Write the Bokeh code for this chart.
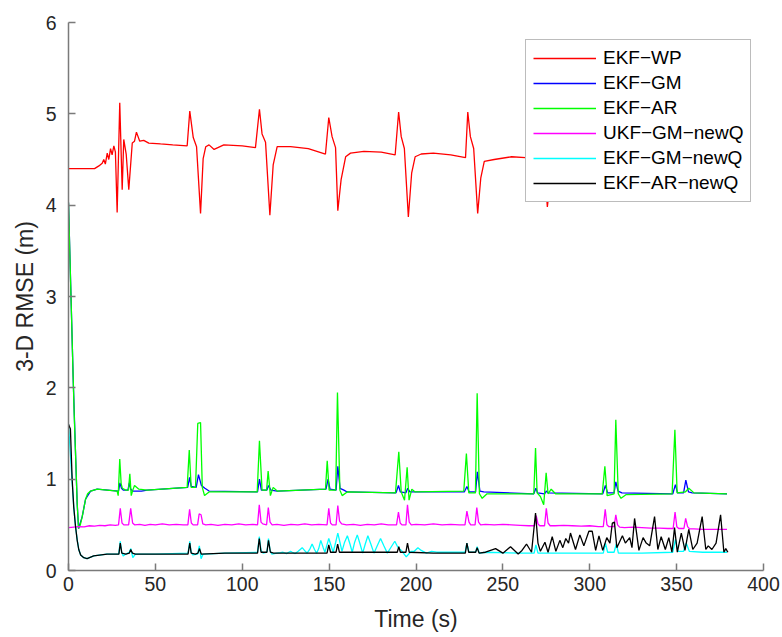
from bokeh.plotting import figure
from bokeh.models import Range1d, FixedTicker
from bokeh.embed import file_html
from bokeh.resources import INLINE

# ---------------- data (time s, 3-D RMSE m) ----------------
x_ticks = [0, 50, 100, 150, 200, 250, 300, 350, 400]
y_ticks = [0, 1, 2, 3, 4, 5, 6]

names = ["EKF\u2212WP", "EKF\u2212GM", "EKF\u2212AR", "UKF\u2212GM\u2212newQ", "EKF\u2212GM\u2212newQ", "EKF\u2212AR\u2212newQ"]
colors = ["#ff0000", "#0000ff", "#00ff00", "#ff00ff", "#00ffff", "#000000"]

ekf_wp = [(0, 4.40), (15, 4.40), (17.5, 4.43), (19.4, 4.46), (20.3, 4.50), (21.2, 4.45), (22.3, 4.57),
          (23.2, 4.50), (24.2, 4.62), (25.1, 4.55), (26.1, 4.65), (27, 4.58), (28, 3.92), (29.5, 5.12),
          (30.9, 4.17), (31.8, 4.72), (33.2, 4.56), (34.7, 4.17), (36.7, 4.68), (38, 4.70), (39.1, 4.80),
          (41, 4.70), (43.3, 4.71), (46.2, 4.68), (53, 4.67), (60, 4.66), (68.3, 4.65), (69.8, 5.03),
          (71.8, 4.74), (73.7, 4.64), (76, 3.91), (77.5, 4.51), (79, 4.64), (80.9, 4.66), (83.8, 4.61),
          (89.4, 4.66), (100, 4.65), (107.6, 4.63), (109.9, 5.05), (111.4, 4.78), (113.4, 4.69),
          (115.9, 3.89), (117.8, 4.44), (120.1, 4.64), (127.8, 4.64), (138, 4.62), (147.9, 4.56),
          (149.8, 4.96), (151.7, 4.75), (153.7, 4.63), (155, 3.94), (156.9, 4.28), (159.5, 4.53),
          (162.3, 4.57), (170, 4.59), (180, 4.58), (188, 4.55), (190, 5.02), (191.5, 4.75), (193.3, 4.62),
          (195.6, 3.87), (197.5, 4.35), (199.5, 4.53), (203, 4.56), (210, 4.57), (220, 4.55), (228.5, 4.52),
          (229.8, 5.02), (231.3, 4.75), (233.2, 4.62), (235.5, 3.91), (237.3, 4.30), (239.3, 4.48),
          (245, 4.50), (255, 4.53), (263, 4.52), (268.5, 4.50), (270, 4.98), (271.5, 4.72), (273.3, 4.60),
          (275.6, 3.98), (277.5, 4.30), (280, 4.47), (290, 4.50), (300, 4.49), (308.5, 4.47), (310, 4.95),
          (311.5, 4.70), (313.3, 4.58), (315.6, 4.15), (317.5, 4.35), (320, 4.46), (330, 4.48),
          (340, 4.47), (348.5, 4.45), (350, 4.92), (351.5, 4.68), (353.3, 4.56), (355.6, 4.15),
          (357.5, 4.35), (360, 4.44), (370, 4.46), (380, 4.45)]

ekf_gm = [(0, 4.03), (2.7, 2.1), (4, 1.31), (5, 0.73), (5.8, 0.46), (7.9, 0.59), (9.8, 0.78), (12.7, 0.87),
          (16.5, 0.89), (28.8, 0.87), (29.6, 0.96), (30.5, 0.90), (31.5, 0.88), (34.2, 0.88), (35, 0.96),
          (35.8, 0.89), (37, 0.87), (42, 0.87), (45.3, 0.88), (68.6, 0.91), (69.7, 1.02), (70.6, 0.92),
          (73.5, 0.91), (74.8, 1.05), (76.5, 0.93), (78.5, 0.90), (80.9, 0.87), (108.8, 0.86), (109.9, 1.0),
          (111, 0.88), (114.2, 0.88), (115.1, 0.93), (116.5, 0.88), (120.1, 0.87), (148.2, 0.89),
          (149.4, 1.0), (150.5, 0.89), (154, 0.88), (155, 1.14), (156.3, 0.90), (158.5, 0.88),
          (160.4, 0.86), (188.5, 0.85), (189.9, 0.93), (191, 0.86), (194.2, 0.85), (195.2, 0.90),
          (196.5, 0.86), (227.8, 0.86), (229.3, 0.92), (230.6, 0.86), (234.3, 0.86), (235.3, 1.08),
          (236.8, 0.87), (239, 0.86), (267.8, 0.84), (269, 0.90), (270, 0.85), (274, 0.84), (275, 0.87),
          (276, 0.85), (307.5, 0.84), (309, 0.93), (310.3, 0.85), (314, 0.85), (315, 0.97), (316.3, 0.87),
          (318.5, 0.85), (347.8, 0.84), (349.3, 0.94), (350.5, 0.85), (354, 0.85), (355.3, 0.99),
          (356.8, 0.86), (359, 0.85), (379, 0.84)]

ekf_ar = [(0, 4.03), (1, 3.3), (2, 2.6), (2.7, 2.1), (3.3, 1.7), (4, 1.31), (5, 0.73), (5.8, 0.46),
          (6.8, 0.50), (7.9, 0.59), (9, 0.70), (9.8, 0.78), (11, 0.84), (12.7, 0.87), (16.5, 0.89),
          (28, 0.87), (28.6, 0.82), (29.5, 1.22), (30.3, 0.95), (31, 0.90), (32.9, 0.88), (34.5, 0.88),
          (35.3, 1.06), (36.1, 0.82), (37, 0.88), (38, 0.93), (40.5, 0.89), (45.3, 0.88), (68.3, 0.91),
          (69.5, 1.32), (70.6, 0.91), (73.1, 0.91), (74.4, 1.61), (76, 1.62), (77, 0.91), (78.3, 0.82),
          (80.9, 0.86), (99, 0.86), (108.6, 0.86), (109.9, 1.42), (111.4, 0.88), (114, 0.88),
          (114.9, 1.09), (116.2, 0.82), (117.8, 0.91), (120.1, 0.87), (147.9, 0.89), (148.9, 1.20),
          (150, 0.88), (153.8, 0.88), (154.8, 1.95), (156.2, 0.88), (157.5, 0.82), (160.4, 0.86),
          (188.2, 0.85), (190.1, 1.30), (191.5, 0.86), (193.4, 0.77), (194.9, 1.13), (196, 0.77),
          (197.6, 0.89), (199.5, 0.86), (227.5, 0.87), (229, 1.28), (230.4, 0.85), (234.2, 0.85),
          (235.2, 1.94), (236.5, 0.84), (238.1, 0.79), (240.9, 0.84), (267.8, 0.84), (268.8, 1.34),
          (269.7, 0.85), (271.6, 0.81), (273.5, 0.72), (274.9, 1.07), (276, 0.84), (277.8, 0.89),
          (280.3, 0.84), (307.2, 0.84), (308.7, 1.14), (310, 0.82), (314, 0.84), (315, 1.65),
          (316.4, 0.84), (318, 0.79), (320.8, 0.83), (347.4, 0.84), (349, 1.54), (350.3, 0.85),
          (355, 0.86), (357, 0.90), (360, 0.85), (379, 0.84)]

ukf_gm_newq = [(0, 0.47), (3, 0.475), (6, 0.48), (9, 0.478), (12, 0.49), (15, 0.485), (18, 0.495), (21, 0.49),
               (24, 0.50), (27, 0.495), (28.8, 0.50), (29.8, 0.68), (30.8, 0.52), (31.8, 0.50), (34.6, 0.50),
               (35.8, 0.68), (36.9, 0.52), (38, 0.50), (41, 0.505), (44, 0.495), (47, 0.505), (50, 0.50),
               (54, 0.51), (58, 0.50), (62, 0.505), (66, 0.50), (68.7, 0.50), (69.7, 0.67), (70.7, 0.52),
               (71.7, 0.50), (74.3, 0.50), (75.2, 0.62), (76.3, 0.61), (77.3, 0.51), (79, 0.50), (82, 0.505),
               (86, 0.495), (90, 0.505), (94, 0.50), (98, 0.51), (102, 0.50), (106, 0.505), (108.8, 0.50),
               (109.8, 0.72), (110.8, 0.53), (111.8, 0.51), (114, 0.50), (115, 0.69), (116, 0.53),
               (117.2, 0.50), (120, 0.505), (124, 0.495), (128, 0.505), (132, 0.50), (136, 0.51), (140, 0.50),
               (144, 0.505), (148.8, 0.50), (149.8, 0.68), (150.8, 0.52), (151.8, 0.50), (154, 0.50),
               (155, 0.71), (156, 0.54), (157.2, 0.51), (160, 0.50), (164, 0.505), (168, 0.495), (172, 0.505),
               (176, 0.50), (180, 0.51), (184, 0.50), (188.8, 0.50), (189.9, 0.64), (190.9, 0.52),
               (191.9, 0.50), (194.2, 0.50), (195.1, 0.72), (196.1, 0.53), (197.3, 0.50), (200, 0.505),
               (205, 0.50), (210, 0.51), (215, 0.50), (220, 0.505), (225, 0.50), (228.2, 0.50), (229.3, 0.65),
               (230.5, 0.53), (231.5, 0.50), (234, 0.50), (235, 0.69), (236, 0.53), (237.2, 0.50),
               (240, 0.505), (245, 0.50), (250, 0.505), (255, 0.50), (260, 0.495), (265, 0.49), (268.2, 0.49),
               (269.2, 0.60), (270.2, 0.51), (271.2, 0.49), (274, 0.49), (275, 0.68), (276, 0.52),
               (277.2, 0.49), (280, 0.49), (285, 0.495), (290, 0.49), (295, 0.485), (300, 0.49), (305, 0.48),
               (307.8, 0.48), (308.9, 0.67), (309.9, 0.50), (311, 0.48), (314, 0.48), (315, 0.61),
               (316, 0.50), (317.2, 0.475), (320, 0.47), (325, 0.475), (330, 0.47), (335, 0.465),
               (340, 0.465), (345, 0.46), (348, 0.46), (349.1, 0.64), (350.1, 0.48), (351.2, 0.46),
               (354.2, 0.46), (355.2, 0.57), (356.3, 0.48), (357.5, 0.455), (360, 0.455), (365, 0.45),
               (370, 0.45), (375, 0.45), (379, 0.45)]

ekf_gm_newq = [(0, 1.6), (1, 1.3), (2, 1.0), (3, 0.7), (4, 0.49), (5, 0.34), (5.9, 0.23), (7, 0.17), (8.8, 0.14),
               (10.7, 0.13), (14.5, 0.16), (22, 0.18), (28.9, 0.18), (29.8, 0.32), (30.6, 0.20), (31.5, 0.16),
               (33, 0.18), (35, 0.20), (35.9, 0.24), (37, 0.14), (38.5, 0.18), (50, 0.18), (68.8, 0.19),
               (69.8, 0.32), (70.6, 0.20), (71.5, 0.17), (74.3, 0.18), (75.3, 0.27), (76.3, 0.13),
               (77.5, 0.18), (90, 0.19), (108.8, 0.20), (109.8, 0.37), (110.8, 0.22), (112, 0.19),
               (114.2, 0.20), (115.1, 0.35), (116, 0.22), (117, 0.18), (120, 0.19), (122, 0.195),
               (123.5, 0.20), (125.5, 0.185), (126.8, 0.20), (127.8, 0.21), (128.8, 0.20), (130.5, 0.185),
               (132.2, 0.21), (134.5, 0.25), (136.3, 0.21), (137.3, 0.19), (138.8, 0.23), (140.2, 0.29),
               (141.6, 0.23), (142.8, 0.19), (144, 0.24), (145.2, 0.33), (146.6, 0.25), (147.6, 0.2),
               (148.6, 0.27), (149.8, 0.35), (151, 0.28), (152.3, 0.2), (153.8, 0.31), (155, 0.41),
               (156.2, 0.31), (157.4, 0.21), (158.9, 0.31), (160.5, 0.38), (162, 0.29), (163.3, 0.2),
               (164.7, 0.31), (166.2, 0.39), (167.8, 0.29), (169.3, 0.19), (170.8, 0.29), (172.3, 0.38),
               (174, 0.29), (175.8, 0.19), (177.7, 0.27), (179.6, 0.35), (181.5, 0.27), (183.5, 0.19),
               (185.8, 0.26), (187.8, 0.32), (189.4, 0.26), (190.5, 0.24), (192, 0.21), (194.4, 0.15),
               (195.8, 0.18), (197.3, 0.21), (199, 0.21), (201.1, 0.25), (203, 0.22), (206, 0.19),
               (209, 0.21), (212, 0.20), (215, 0.20), (228.3, 0.20), (229.3, 0.30), (230.5, 0.20),
               (234.3, 0.20), (235.2, 0.26), (236.5, 0.19), (240, 0.20), (260, 0.19), (268, 0.19),
               (269, 0.28), (270.2, 0.19), (290, 0.19), (307.8, 0.19), (309, 0.30), (310.3, 0.20),
               (314, 0.20), (315.3, 0.29), (316.5, 0.19), (330, 0.19), (347.8, 0.20), (349.3, 0.34),
               (350.8, 0.21), (354, 0.21), (355.5, 0.30), (357.3, 0.21), (365, 0.20), (379, 0.20)]

ekf_ar_newq = [(0, 1.6), (1.1, 1.55), (2.1, 1.0), (3, 0.7), (4, 0.49), (5, 0.33), (5.9, 0.23), (7, 0.17),
               (8.8, 0.14), (10.7, 0.13), (14.5, 0.16), (22.2, 0.18), (29, 0.18), (29.8, 0.30), (30.7, 0.19),
               (33, 0.18), (35, 0.19), (35.8, 0.23), (36.8, 0.19), (38.5, 0.18), (50, 0.18), (68.8, 0.18),
               (69.8, 0.30), (70.6, 0.19), (73, 0.18), (74.5, 0.19), (75.4, 0.24), (76.4, 0.18), (90, 0.19),
               (108.8, 0.19), (109.8, 0.35), (110.8, 0.20), (114.2, 0.20), (115.1, 0.33), (116.2, 0.20),
               (118, 0.19), (130, 0.19), (148.8, 0.19), (149.8, 0.28), (150.8, 0.20), (154, 0.20),
               (154.9, 0.29), (155.9, 0.20), (170, 0.20), (189.2, 0.20), (190.1, 0.26), (191, 0.20),
               (194.2, 0.20), (195.1, 0.30), (196.1, 0.20), (210, 0.19), (228.4, 0.19), (229.3, 0.30),
               (230.3, 0.20), (234.3, 0.20), (235.2, 0.25), (236.3, 0.19), (240, 0.20), (245.8, 0.24),
               (250, 0.19), (254.4, 0.26), (258.8, 0.18), (261, 0.22), (263.6, 0.29), (266.5, 0.20),
               (268.8, 0.63), (270.2, 0.30), (271.6, 0.21), (274.2, 0.31), (276, 0.20), (278.4, 0.37),
               (280.5, 0.21), (282.8, 0.33), (284.5, 0.25), (286.2, 0.35), (287.8, 0.30), (288.9, 0.41),
               (291.8, 0.23), (294.3, 0.39), (296.6, 0.27), (299.5, 0.43), (301.4, 0.43), (303.4, 0.22),
               (305.3, 0.38), (307.5, 0.22), (309.8, 0.36), (311.6, 0.30), (313, 0.52), (314.2, 0.53),
               (315.6, 0.25), (318.8, 0.38), (320.5, 0.30), (323, 0.36), (324.3, 0.25), (325.8, 0.57),
               (328.3, 0.22), (330.7, 0.36), (332.5, 0.30), (334.5, 0.27), (337.3, 0.59), (339.2, 0.23),
               (341.1, 0.37), (343.5, 0.23), (345.5, 0.36), (347.3, 0.20), (348.8, 0.47), (350.4, 0.20),
               (352.7, 0.41), (354.8, 0.22), (357, 0.45), (359.3, 0.23), (361.8, 0.30), (364.7, 0.59),
               (366.8, 0.23), (368.2, 0.27), (370.3, 0.23), (372.7, 0.30), (375.3, 0.61), (377.2, 0.20),
               (378.3, 0.24), (379.5, 0.20)]

series = [ekf_wp, ekf_gm, ekf_ar, ukf_gm_newq, ekf_gm_newq, ekf_ar_newq]

# ---------------- figure ----------------
FONT = "Liberation Sans"
p = figure(width=782, height=637, output_backend="svg", toolbar_location=None,
           x_range=Range1d(0, 400), y_range=Range1d(0, 6),
           min_border_left=68, min_border_right=19, min_border_top=22, min_border_bottom=67)
p.outline_line_color = None
p.grid.visible = False
p.background_fill_color = "white"
p.border_fill_color = "white"

for data, c, n in zip(series, colors, names):
    xs = [d[0] for d in data]
    ys = [d[1] for d in data]
    p.line(xs, ys, line_color=c, line_width=1.3, legend_label=n)

for ax, ticks in ((p.xaxis[0], x_ticks), (p.yaxis[0], y_ticks)):
    ax.ticker = FixedTicker(ticks=ticks)
    ax.major_tick_in = 7
    ax.major_tick_out = 0
    ax.minor_tick_line_color = None
    ax.axis_line_color = "#7a7a7a"
    ax.axis_line_width = 1.5
    ax.major_tick_line_color = "#7a7a7a"
    ax.major_tick_line_width = 1.5
    ax.major_label_text_font = FONT
    ax.major_label_text_font_size = "19.5px"
    ax.major_label_text_color = "#262626"
    ax.axis_label_text_font = FONT
    ax.axis_label_text_font_size = "23px"
    ax.axis_label_text_font_style = "normal"
    ax.axis_label_text_color = "#262626"

p.xaxis.axis_label = "Time (s)"
p.yaxis.axis_label = "3-D RMSE (m)"
p.yaxis.major_label_standoff = 12
p.xaxis.major_label_standoff = 6
p.yaxis.axis_label_standoff = 5
p.xaxis.axis_label_standoff = 12

lg = p.legend[0]
lg.location = (457, 368)
lg.label_text_font = FONT
lg.label_text_font_size = "19px"
lg.label_text_color = "#000000"
lg.border_line_color = "#7a7a7a"
lg.border_line_width = 1.5
lg.background_fill_color = "white"
lg.background_fill_alpha = 1.0
lg.glyph_width = 63
lg.glyph_height = 22
lg.label_height = 22
lg.label_standoff = 7
lg.spacing = 3
lg.padding = 7
lg.margin = 0

open("out.html", "w").write(file_html(p, INLINE))
